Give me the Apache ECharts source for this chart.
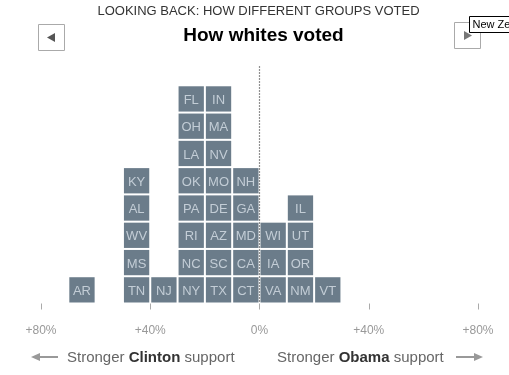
<!DOCTYPE html>
<html>
<head>
<meta charset="utf-8">
<script src="https://cdn.jsdelivr.net/npm/echarts@6/dist/echarts.min.js"></script>
<style>html,body{margin:0;padding:0;background:#fff;}#chart{width:509px;height:375px;}</style>
</head>
<body>
<div id="chart"></div>
<script>
// States in stacking order (bottom to top within each bin)
const states = ["AR",
  "TN","MS","WV","AL","KY",
  "NJ",
  "NY","NC","RI","PA","OK","LA","OH","FL",
  "TX","SC","AZ","DE","MO","NV","MA","IN",
  "CT","CA","MD","GA","NH",
  "VA","IA","WI",
  "NM","OR","UT","IL",
  "VT"];
// Obama minus Clinton margin among whites (bin centre, %)
const margins = [-65,
  -45,-45,-45,-45,-45,
  -35,
  -25,-25,-25,-25,-25,-25,-25,-25,
  -15,-15,-15,-15,-15,-15,-15,-15,
  -5,-5,-5,-5,-5,
  5,5,5,
  15,15,15,15,
  25];
const binWidth = 10;
const tickValues = [-80, -40, 0, 40, 80];
const tickLabels = ["+80%", "+40%", "0%", "+40%", "+80%"];

const FONT = "Liberation Sans, Arial, sans-serif";
const counts = {};
const tiles = states.map((s, i) => {
  const m = margins[i];
  const row = counts[m] || 0;
  counts[m] = row + 1;
  return [m, row, s];
});

const chart = echarts.init(document.getElementById('chart'));
chart.setOption({
  animation: false,
  grid: { left: 41, right: 31, top: 58, bottom: 71.5 },
  xAxis: {
    type: 'value', min: -80, max: 80, interval: 40,
    axisLine: { show: false },
    axisTick: { show: true, length: 6, lineStyle: { color: '#aaa' } },
    splitLine: { show: false },
    axisLabel: {
      margin: 21, color: '#999', fontSize: 12, fontFamily: FONT,
      formatter: v => tickLabels[tickValues.indexOf(v)]
    }
  },
  yAxis: { type: 'value', min: 0, max: 9, show: false },
  series: [
    {
      type: 'line',
      data: [[0, 0.07], [0, 8.72]],
      symbol: 'none',
      lineStyle: { color: '#222', width: 1.2, type: [1, 2] },
      z: 5
    },
    {
      type: 'custom',
      data: tiles,
      renderItem: function (params, api) {
        const x = api.value(0), r = api.value(1);
        const tl = api.coord([x - binWidth / 2, r + 1]);
        const sz = api.size([binWidth, 1]);
        return {
          type: 'group',
          children: [
            { type: 'rect', shape: { x: tl[0] + 1, y: tl[1] + 1, width: sz[0] - 2, height: sz[1] - 2 },
              style: { fill: '#6b7c8a' } },
            { type: 'text', style: { text: states[params.dataIndex], x: tl[0] + sz[0] / 2, y: tl[1] + sz[1] / 2 + 1.5,
              align: 'center', verticalAlign: 'middle', fill: '#c3cdd6', font: '13px ' + FONT } }
          ]
        };
      },
      z: 3
    }
  ],
  graphic: [
    { type: 'text', style: { text: 'LOOKING BACK: HOW DIFFERENT GROUPS VOTED', x: 258.5, y: 11.5,
      align: 'center', verticalAlign: 'middle', fill: '#333', font: '13px ' + FONT } },
    { type: 'text', style: { text: 'How whites voted', x: 263.5, y: 35.5,
      align: 'center', verticalAlign: 'middle', fill: '#000', font: 'bold 19px ' + FONT } },
    { type: 'rect', shape: { x: 38.5, y: 24.5, width: 26, height: 26 }, style: { fill: '#fff', stroke: '#aaa', lineWidth: 1 } },
    { type: 'polygon', shape: { points: [[47, 37.5], [55, 33], [55, 42]] }, style: { fill: '#555' } },
    { type: 'rect', shape: { x: 454.5, y: 22.5, width: 26, height: 26 }, style: { fill: '#fff', stroke: '#aaa', lineWidth: 1 } },
    { type: 'polygon', shape: { points: [[472, 35.5], [464, 31], [464, 40]] }, style: { fill: '#777' } },
    { type: 'rect', shape: { x: 469.5, y: 16.5, width: 50, height: 16 }, style: { fill: '#fff', stroke: '#000', lineWidth: 1 }, z: 10 },
    { type: 'text', style: { text: 'New Ze', x: 472.5, y: 25, verticalAlign: 'middle', fill: '#000', font: '11px ' + FONT }, z: 11 },
    // bottom direction labels
    { type: 'line', shape: { x1: 36, y1: 357, x2: 58, y2: 357 }, style: { stroke: '#999', lineWidth: 2 } },
    { type: 'polygon', shape: { points: [[31, 357], [40, 353], [40, 361]] }, style: { fill: '#999' } },
    { type: 'text', style: { text: 'Stronger {b|Clinton} support', x: 67, y: 358, verticalAlign: 'middle',
      fill: '#666', font: '15px ' + FONT,
      rich: { b: { fontWeight: 'bold', fill: '#333', fontSize: 15, fontFamily: FONT } } } },
    { type: 'text', style: { text: 'Stronger {b|Obama} support', x: 277, y: 358, verticalAlign: 'middle',
      fill: '#666', font: '15px ' + FONT,
      rich: { b: { fontWeight: 'bold', fill: '#333', fontSize: 15, fontFamily: FONT } } } },
    { type: 'line', shape: { x1: 456, y1: 357, x2: 478, y2: 357 }, style: { stroke: '#999', lineWidth: 2 } },
    { type: 'polygon', shape: { points: [[483, 357], [474, 353], [474, 361]] }, style: { fill: '#999' } }
  ]
});
</script>
</body>
</html>
